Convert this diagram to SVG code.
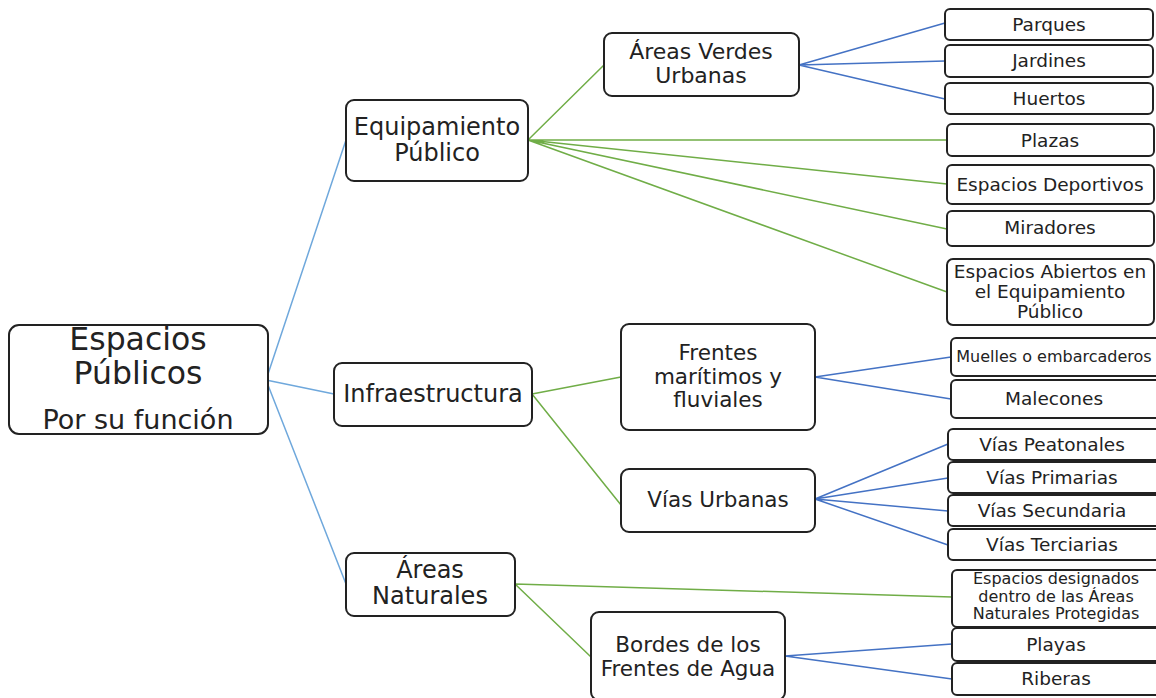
<svg xmlns="http://www.w3.org/2000/svg" width="1156" height="698" viewBox="0 0 1156 698">
<style>
.box{fill:#fff;stroke:#222;stroke-width:2}
text{font-family:"DejaVu Sans","Noto Sans",sans-serif;fill:#222;text-anchor:middle;dominant-baseline:central}
.c1{stroke:#6fa8dc;stroke-width:1.5;fill:none}
.c2{stroke:#70ad47;stroke-width:1.5;fill:none}
.c3{stroke:#4472c4;stroke-width:1.5;fill:none}
.f18{font-size:21.5px}
.f15{font-size:18.5px}
.f13{font-size:16px}
.f20{font-size:24px}
</style>
<rect width="1156" height="698" fill="#fff"/>
<g id="connectors">
<path class="c1" d="M266,380 L346,140 M266,380 L334,394 M266,380 L346,584"/>
<path class="c2" d="M528,140 L604,65 M528,140 L947,140 M528,140 L947,184 M528,140 L947,229 M528,140 L947,292"/>
<path class="c3" d="M799,65 L945,23 M799,65 L945,61 M799,65 L945,99"/>
<path class="c2" d="M532,394 L621,377 M532,394 L621,505"/>
<path class="c3" d="M815,377 L951,357 M815,377 L951,399"/>
<path class="c3" d="M815,499 L948,444 M815,499 L948,478 M815,499 L948,511 M815,499 L948,545"/>
<path class="c2" d="M515,584 L952,597 M515,584 L591,657"/>
<path class="c3" d="M785,656 L952,644 M785,656 L952,679"/>
</g>
<g id="root"><rect class="box" x="9" y="325" width="259" height="109" rx="10"/>
<text x="138" y="339" style="font-size:31.5px">Espacios</text>
<text x="138" y="373" style="font-size:31.5px">Públicos</text>
<text x="138" y="419" style="font-size:27px">Por su función</text></g>
<g id="equipamiento"><rect class="box" x="346" y="100" width="182" height="81" rx="8"/>
<text x="437" y="127" class="f20">Equipamiento</text><text x="437" y="153" class="f20">Público</text></g>
<g id="areas-verdes"><rect class="box" x="604" y="33" width="195" height="63" rx="8"/>
<text x="701" y="51" style="font-size:22px">Áreas Verdes</text><text x="701" y="75" style="font-size:22px">Urbanas</text></g>
<g id="infraestructura"><rect class="box" x="334" y="363" width="198" height="63" rx="8"/>
<text x="433" y="394" class="f20">Infraestructura</text></g>
<g id="frentes"><rect class="box" x="621" y="324" width="194" height="106" rx="8"/>
<text x="718" y="352" class="f18">Frentes</text><text x="718" y="376" class="f18">marítimos y</text><text x="718" y="399" class="f18">fluviales</text></g>
<g id="vias-urbanas"><rect class="box" x="621" y="469" width="194" height="63" rx="8"/>
<text x="718" y="499" class="f18">Vías Urbanas</text></g>
<g id="areas-naturales"><rect class="box" x="346" y="553" width="169" height="63" rx="8"/>
<text x="430" y="570" class="f20">Áreas</text><text x="430" y="596" class="f20">Naturales</text></g>
<g id="bordes"><rect class="box" x="591" y="612" width="194" height="88" rx="8"/>
<text x="688" y="644" class="f18">Bordes de los</text><text x="688" y="668" class="f18">Frentes de Agua</text></g>
<g id="parques"><rect class="box" x="945" y="9" width="208" height="31" rx="5"/><text x="1049" y="24" class="f15">Parques</text></g>
<g id="jardines"><rect class="box" x="945" y="45" width="208" height="32" rx="5"/><text x="1049" y="60" class="f15">Jardines</text></g>
<g id="huertos"><rect class="box" x="945" y="83" width="208" height="31" rx="5"/><text x="1049" y="98" class="f15">Huertos</text></g>
<g id="plazas"><rect class="box" x="947" y="124" width="207" height="32" rx="5"/><text x="1050" y="140" class="f15">Plazas</text></g>
<g id="deportivos"><rect class="box" x="947" y="165" width="207" height="39" rx="5"/><text x="1050" y="184" class="f15">Espacios Deportivos</text></g>
<g id="miradores"><rect class="box" x="947" y="211" width="207" height="35" rx="5"/><text x="1050" y="227" class="f15">Miradores</text></g>
<g id="abiertos"><rect class="box" x="947" y="259" width="207" height="66" rx="6"/>
<text x="1050" y="271" class="f15">Espacios Abiertos en</text><text x="1050" y="291" class="f15">el Equipamiento</text><text x="1050" y="311" class="f15">Público</text></g>
<g id="muelles"><rect class="box" x="951" y="338" width="210" height="38" rx="5"/><text x="1054" y="356" class="f13">Muelles o embarcaderos</text></g>
<g id="malecones"><rect class="box" x="951" y="380" width="210" height="38" rx="5"/><text x="1054" y="398" class="f15">Malecones</text></g>
<g id="peatonales"><rect class="box" x="948" y="429" width="212" height="31" rx="5"/><text x="1052" y="444" class="f15">Vías Peatonales</text></g>
<g id="primarias"><rect class="box" x="948" y="462" width="212" height="31" rx="5"/><text x="1052" y="477" class="f15">Vías Primarias</text></g>
<g id="secundaria"><rect class="box" x="948" y="495" width="212" height="31" rx="5"/><text x="1052" y="510" class="f15">Vías Secundaria</text></g>
<g id="terciarias"><rect class="box" x="948" y="529" width="212" height="31" rx="5"/><text x="1052" y="544" class="f15">Vías Terciarias</text></g>
<g id="designados"><rect class="box" x="952" y="570" width="208" height="57" rx="5"/>
<text x="1056" y="578" class="f13">Espacios designados</text><text x="1056" y="596" class="f13">dentro de las  Áreas</text><text x="1056" y="613" class="f13">Naturales Protegidas</text></g>
<g id="playas"><rect class="box" x="952" y="628" width="208" height="33" rx="5"/><text x="1056" y="644" class="f15">Playas</text></g>
<g id="riberas"><rect class="box" x="952" y="663" width="208" height="32" rx="5"/><text x="1056" y="678" class="f15">Riberas</text></g>
</svg>
